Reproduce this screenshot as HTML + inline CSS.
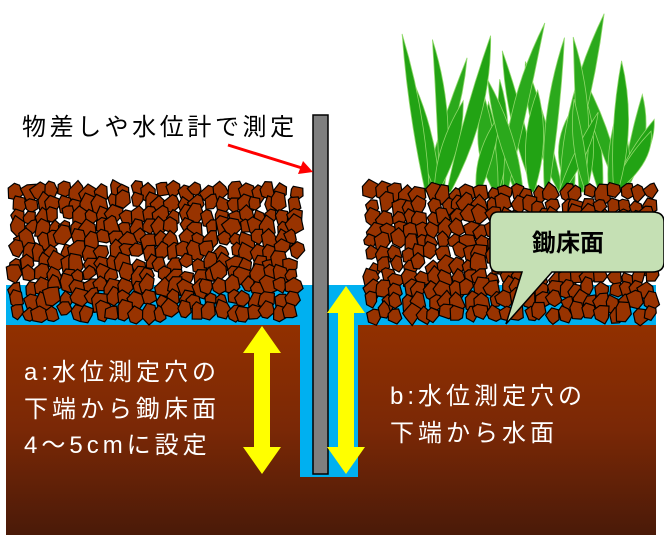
<!DOCTYPE html>
<html><head><meta charset="utf-8"><style>
body{margin:0;background:#fff;}
svg{display:block}
text{font-family:"Liberation Sans","Noto Sans CJK JP",sans-serif;}
</style></head><body>
<svg id="s" width="664" height="535" viewBox="0 0 664 535" xmlns="http://www.w3.org/2000/svg">
<defs>
<linearGradient id="soil" x1="0" y1="0" x2="0" y2="1">
<stop offset="0" stop-color="#923000"/><stop offset="0.5" stop-color="#7a2806"/><stop offset="1" stop-color="#4a1a08"/>
</linearGradient>
</defs>
<g id="grass"></g>
<rect x="6" y="325" width="650" height="210" fill="url(#soil)"/>
<rect x="6" y="285" width="294" height="40" fill="#00b0f0"/>
<rect x="358" y="285" width="298" height="40" fill="#00b0f0"/>
<rect x="300" y="285" width="58" height="192" fill="#00b0f0"/>
<g id="stones"></g>
<rect x="313" y="115" width="15" height="359" fill="#7f7f7f" stroke="#000" stroke-width="1.5"/>
<polygon points="262,326 281,353 270,353 270,447 281,447 262,474 243,447 254,447 254,353 243,353" fill="#ffff00"/>
<polygon points="346,286 365,313 354,313 354,447 365,447 346,474 327,447 338,447 338,313 327,313" fill="#ffff00"/>
<line x1="228" y1="145" x2="302" y2="168" stroke="#ff0000" stroke-width="3"/>
<polygon points="313,172 298,174 303,161" fill="#ff0000"/>
<text x="22" y="135" font-size="24" letter-spacing="3.6" fill="#000">物差しや水位計で測定</text>
<path d="M498,212 H652 Q664,212 664,222 V262 Q664,272 652,272 H552 L506,324 L522,272 H498 Q490,272 490,262 V222 Q490,212 498,212 Z" fill="#c5e0b4" stroke="#000" stroke-width="1.5"/>
<text x="532" y="251" font-size="24" font-weight="bold" fill="#000">鋤床面</text>
<g fill="#fff" font-size="24" letter-spacing="4">
<text x="24" y="380">a:水位測定穴の</text>
<text x="24" y="417">下端から鋤床面</text>
<text x="24" y="453">4～5cmに設定</text>
<text x="390" y="404">b:水位測定穴の</text>
<text x="390" y="441">下端から水面</text>
</g>
</svg>
<script>
var seed=7;function r(){seed=(seed*16807)%2147483647;return seed/2147483647;}
var ns="http://www.w3.org/2000/svg";
var g=document.getElementById("grass");
for(var i=0;i<32;i++){
 var bx=425+r()*215, by=192, tx=bx+(r()-0.5)*100, ty=5+r()*110+(Math.abs(bx-530)/5);
 var w=9+r()*8, mx=(bx+tx)/2+(r()-0.5)*20, my=(by+ty)/2;
 var p=document.createElementNS(ns,"path");
 p.setAttribute("d","M"+(bx-2)+","+by+" Q"+(mx-w)+","+my+" "+tx+","+ty+" Q"+(mx+w)+","+my+" "+(bx+2)+","+by+" Z");
 p.setAttribute("fill",r()<0.5?"#22a314":"#2ba91c");p.setAttribute("stroke","#8fd86a");p.setAttribute("stroke-width","0.8");
 g.appendChild(p);
}
var s=document.getElementById("stones");
function region(x0,x1,y0,y1){
 for(var y=y0;y<y1;y+=12){for(var x=x0;x<x1;x+=12){
  var cx=x+r()*7,cy=y+r()*7,rad=7+r()*3,n=6,pts=[];
  for(var k=0;k<n;k++){var a=k/n*6.283+r()*0.6,rr=rad*(0.75+r()*0.35);pts.push((cx+Math.cos(a)*rr).toFixed(1)+","+(cy+Math.sin(a)*rr*1.15).toFixed(1));}
  var p=document.createElementNS(ns,"polygon");p.setAttribute("points",pts.join(" "));
  p.setAttribute("fill","#983300");p.setAttribute("stroke","#000");p.setAttribute("stroke-width","1.2");s.appendChild(p);
 }}
}
region(14,292,188,318);region(370,650,190,318);
</script>
</body></html>
